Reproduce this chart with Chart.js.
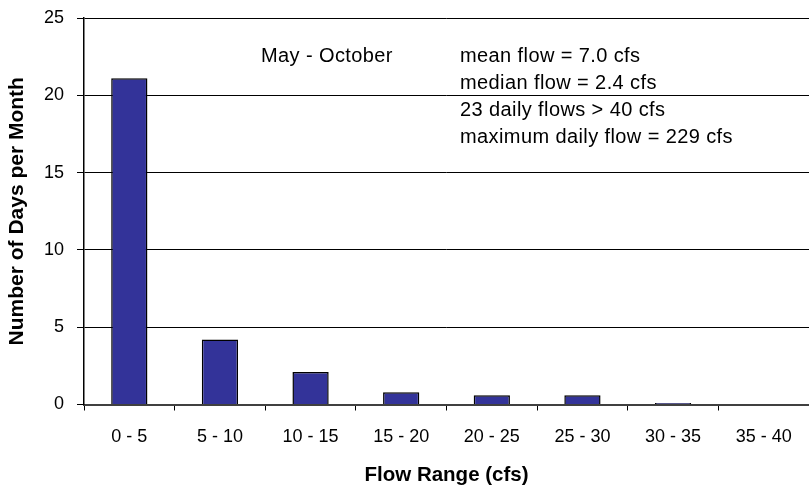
<!DOCTYPE html>
<html>
<head>
<meta charset="utf-8">
<script src="https://cdn.jsdelivr.net/npm/chart.js@4"></script>
<style>
  html, body { margin: 0; padding: 0; background: #fff; }
  #wrap { width: 809px; height: 493px; }
</style>
</head>
<body>
<div id="wrap"><canvas id="flow-chart"></canvas></div>
<script>
// flow ranges (cfs) and days per month in each
const flowRanges = ['0 - 5', '5 - 10', '10 - 15', '15 - 20', '20 - 25', '25 - 30', '30 - 35', '35 - 40'];
const daysPerMonth = [21.1, 4.2, 2.1, 0.8, 0.6, 0.6, 0.1, 0];
const yTicks = [0, 5, 10, 15, 20, 25];

const seasonLabel = 'May - October';
const statLines = [
    'mean flow = 7.0 cfs',
    'median flow = 2.4 cfs',
    '23 daily flows > 40 cfs',
    'maximum daily flow = 229 cfs'
];

const FONT = 'Liberation Sans, Arial, sans-serif';

// text boxes inside the plot
const notes = {
    id: 'notes',
    afterDraw(chart) {
        const c = chart.ctx;
        c.save();
        c.fillStyle = '#000';
        c.font = '20px ' + FONT;
        c.letterSpacing = '0.4px';
        c.textBaseline = 'alphabetic';
        c.fillText(seasonLabel, 261, 62);
        statLines.forEach((t, i) => c.fillText(t, 460, 62 + i * 27));
        c.restore();
    }
};

let ctx = document.getElementById('flow-chart').getContext('2d');
let chart = new Chart(ctx, {
    type: 'bar',
    data: {
        labels: flowRanges,
        datasets: [{
            data: daysPerMonth,
            backgroundColor: '#333399',
            borderColor: '#000',
            borderWidth: 1.5,
            barPercentage: 0.8,
            categoryPercentage: 0.5
        }]
    },
    options: {
        responsive: true,
        maintainAspectRatio: false,
        animation: false,
        layout: { padding: { left: 0, right: 0, top: 18, bottom: 0 } },
        plugins: {
            legend: { display: false },
            tooltip: { enabled: false }
        },
        scales: {
            x: {
                afterFit: s => { s.height = 88.5; },
                grid: {
                    offset: true,
                    drawOnChartArea: false,
                    drawTicks: true,
                    tickLength: 6,
                    color: '#000'
                },
                border: { color: '#404040', width: 2 },
                ticks: { color: '#000', font: { family: FONT, size: 18 }, padding: 16, maxRotation: 0 },
                title: {
                    display: true,
                    text: 'Flow Range (cfs)',
                    color: '#000',
                    font: { family: FONT, size: 20.5, weight: 'bold' },
                    padding: { top: 0, bottom: 5 }
                }
            },
            y: {
                min: 0,
                max: 25,
                afterBuildTicks: s => { s.ticks = yTicks.map(v => ({ value: v })); },
                afterFit: s => { s.width = 84; s.paddingTop = 0; s.paddingBottom = 0; },
                grid: { color: '#000', lineWidth: 1, tickLength: 7 },
                border: { color: '#000', width: 1.5 },
                ticks: { color: '#000', font: { family: FONT, size: 18 }, padding: 13 },
                title: {
                    display: true,
                    text: 'Number of Days per Month',
                    color: '#000',
                    font: { family: FONT, size: 21, weight: 'bold' },
                    padding: { top: 5, bottom: 0 }
                }
            }
        }
    },
    plugins: [notes]
});
</script>
</body>
</html>
